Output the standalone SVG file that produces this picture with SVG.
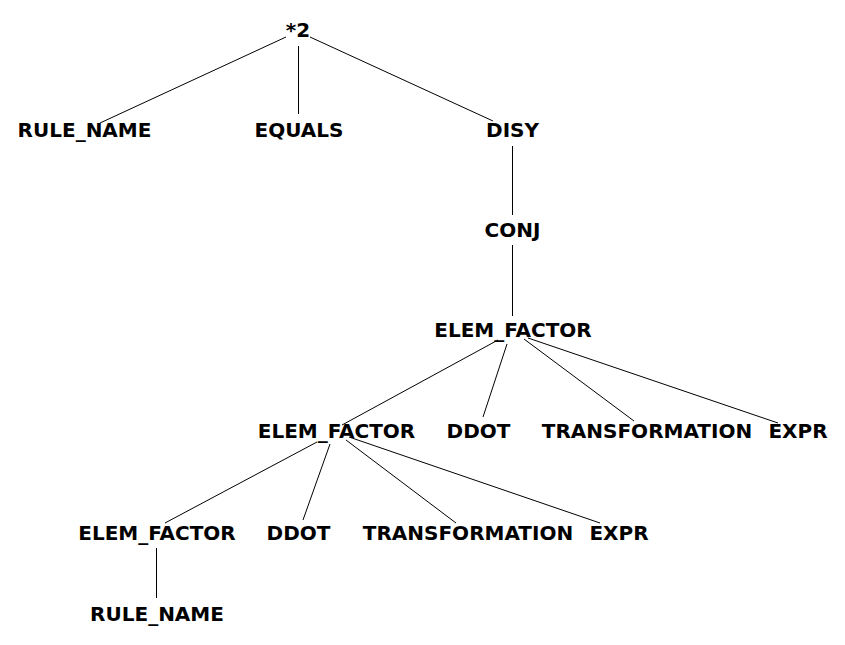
<svg xmlns="http://www.w3.org/2000/svg" width="845" height="645" viewBox="0 0 845 645">
<style>
text{font-family:"DejaVu Sans",sans-serif;font-weight:bold;font-size:20px;fill:#000;text-anchor:middle}
line{stroke:#000;stroke-width:1}
</style>
<rect width="845" height="645" fill="#fff"/>
<g id="connectors">
<line x1="286" y1="37" x2="100" y2="123"/>
<line x1="298.5" y1="46" x2="298.5" y2="114"/>
<line x1="310" y1="37" x2="493" y2="121"/>
<line x1="512.5" y1="146" x2="512.5" y2="215"/>
<line x1="512.5" y1="245" x2="512.5" y2="316"/>
<line x1="498" y1="340" x2="342" y2="425"/>
<line x1="507" y1="344" x2="483" y2="417"/>
<line x1="524" y1="339" x2="634" y2="421"/>
<line x1="528" y1="338" x2="778" y2="423"/>
<line x1="317" y1="442" x2="165" y2="523"/>
<line x1="330" y1="444" x2="303" y2="520"/>
<line x1="346" y1="440" x2="456" y2="523"/>
<line x1="349" y1="437" x2="600" y2="523"/>
<line x1="156.5" y1="548" x2="156.5" y2="598"/>
</g>
<g id="n0"><text x="298" y="37">*2</text></g>
<g id="n1"><text x="84.5" y="137">RULE_NAME</text></g>
<g id="n2"><text x="299" y="137">EQUALS</text></g>
<g id="n3"><text x="512.5" y="137">DISY</text></g>
<g id="n4"><text x="512.5" y="237">CONJ</text></g>
<g id="n5"><text x="513" y="337">ELEM_FACTOR</text></g>
<g id="n6"><text x="336.5" y="438">ELEM_FACTOR</text></g>
<g id="n7"><text x="478.5" y="438">DDOT</text></g>
<g id="n8"><text x="647" y="438">TRANSFORMATION</text></g>
<g id="n9"><text x="798" y="438">EXPR</text></g>
<g id="n10"><text x="157" y="540">ELEM_FACTOR</text></g>
<g id="n11"><text x="298.5" y="540">DDOT</text></g>
<g id="n12"><text x="468" y="540">TRANSFORMATION</text></g>
<g id="n13"><text x="619" y="540">EXPR</text></g>
<g id="n14"><text x="157" y="621">RULE_NAME</text></g>
</svg>
